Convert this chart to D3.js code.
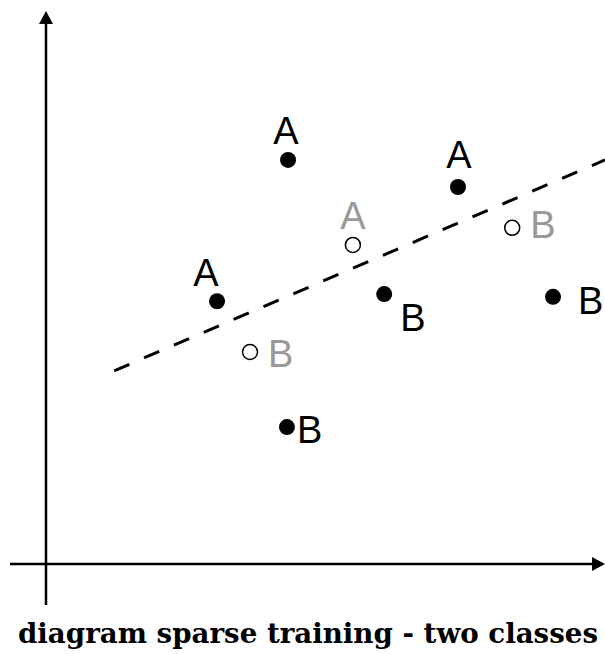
<!DOCTYPE html>
<html>
<head>
<meta charset="utf-8">
<script src="https://cdn.jsdelivr.net/npm/d3@7"></script>
<style>
  html, body { margin: 0; padding: 0; background: #fff; }
  svg { display: block; }
</style>
</head>
<body>
<div id="chart"></div>
<script>
// points (x, y in 0..100 units of the plot)
const pointX = [43.3, 73.7, 30.6, 54.9, 60.5, 90.7, 43.1, 83.4, 36.5]
const pointY = [73.2, 68.3, 47.6, 57.8, 48.9, 48.4, 24.8, 60.9, 38.4]
const pointClass = ['A', 'A', 'A', 'A', 'B', 'B', 'B', 'B', 'B']
const pointKind = ['train', 'train', 'train', 'test', 'train', 'train', 'train', 'test', 'test']

// separating line (dashed)
const boundaryX = [12.2, 100]
const boundaryY = [35.0, 73.2]

const title = 'diagram sparse training - two classes'

// label placement relative to each point (pixels)
const labelDx = [-2, 1, -11, 0, 16, 25, 10, 18, 18]
const labelDy = [-16, -19, -15, -16, 37, 17, 16, 10, 15]

let width = 605
let height = 654

let xScale = d3.scaleLinear().domain([0, 100]).range([46, 605])
let yScale = d3.scaleLinear().domain([0, 100]).range([564, 12])

let svg = d3
  .select('#chart')
  .append('svg')
  .attr('width', width)
  .attr('height', height)

/* Axes with arrow heads */
let x0 = xScale(0)
let y0 = yScale(0)
let axisStroke = 2.5

svg.append('line')
  .attr('x1', 10).attr('x2', 594)
  .attr('y1', y0).attr('y2', y0)
  .attr('stroke', '#000').attr('stroke-width', axisStroke)

svg.append('line')
  .attr('x1', x0).attr('x2', x0)
  .attr('y1', 605).attr('y2', 22)
  .attr('stroke', '#000').attr('stroke-width', axisStroke)

svg.append('path')
  .attr('d', `M${xScale(100)},${y0} L${xScale(100) - 13},${y0 - 7} L${xScale(100) - 13},${y0 + 7} Z`)
  .attr('fill', '#000')

svg.append('path')
  .attr('d', `M${x0},${yScale(100) - 1} L${x0 - 7},${yScale(100) + 12} L${x0 + 7},${yScale(100) + 12} Z`)
  .attr('fill', '#000')

/* Dashed boundary */
let line = d3.line()
  .x(d => xScale(d[0]))
  .y(d => yScale(d[1]))

svg.append('path')
  .attr('d', line(d3.zip(boundaryX, boundaryY)))
  .attr('fill', 'none')
  .attr('stroke', '#000')
  .attr('stroke-width', 3)
  .attr('stroke-dasharray', '16.5,16')

/* Points */
let points = d3.range(pointX.length).map(i => ({
  x: pointX[i],
  y: pointY[i],
  cls: pointClass[i],
  kind: pointKind[i],
  dx: labelDx[i],
  dy: labelDy[i]
}))

let g = svg.append('g')

g.selectAll('circle')
  .data(points)
  .enter()
  .append('circle')
  .attr('cx', d => xScale(d.x))
  .attr('cy', d => yScale(d.y))
  .attr('r', d => d.kind === 'train' ? 8 : 7.5)
  .attr('fill', d => d.kind === 'train' ? '#000' : '#fff')
  .attr('stroke', '#000')
  .attr('stroke-width', d => d.kind === 'train' ? 0 : 1.5)

g.selectAll('text')
  .data(points)
  .enter()
  .append('text')
  .attr('x', d => xScale(d.x) + d.dx)
  .attr('y', d => yScale(d.y) + d.dy)
  .attr('text-anchor', d => d.cls === 'A' ? 'middle' : 'start')
  .attr('font-family', '"Liberation Sans", Arial, sans-serif')
  .attr('font-size', 38)
  .attr('fill', d => d.kind === 'train' ? '#000' : '#999')
  .text(d => d.cls)

/* Title */
svg.append('text')
  .attr('x', 18)
  .attr('y', 643)
  .attr('font-family', '"DejaVu Serif", serif')
  .attr('font-weight', 'bold')
  .attr('font-size', 28)
  .attr('textLength', 580)
  .attr('lengthAdjust', 'spacingAndGlyphs')
  .text(title)
</script>
</body>
</html>
